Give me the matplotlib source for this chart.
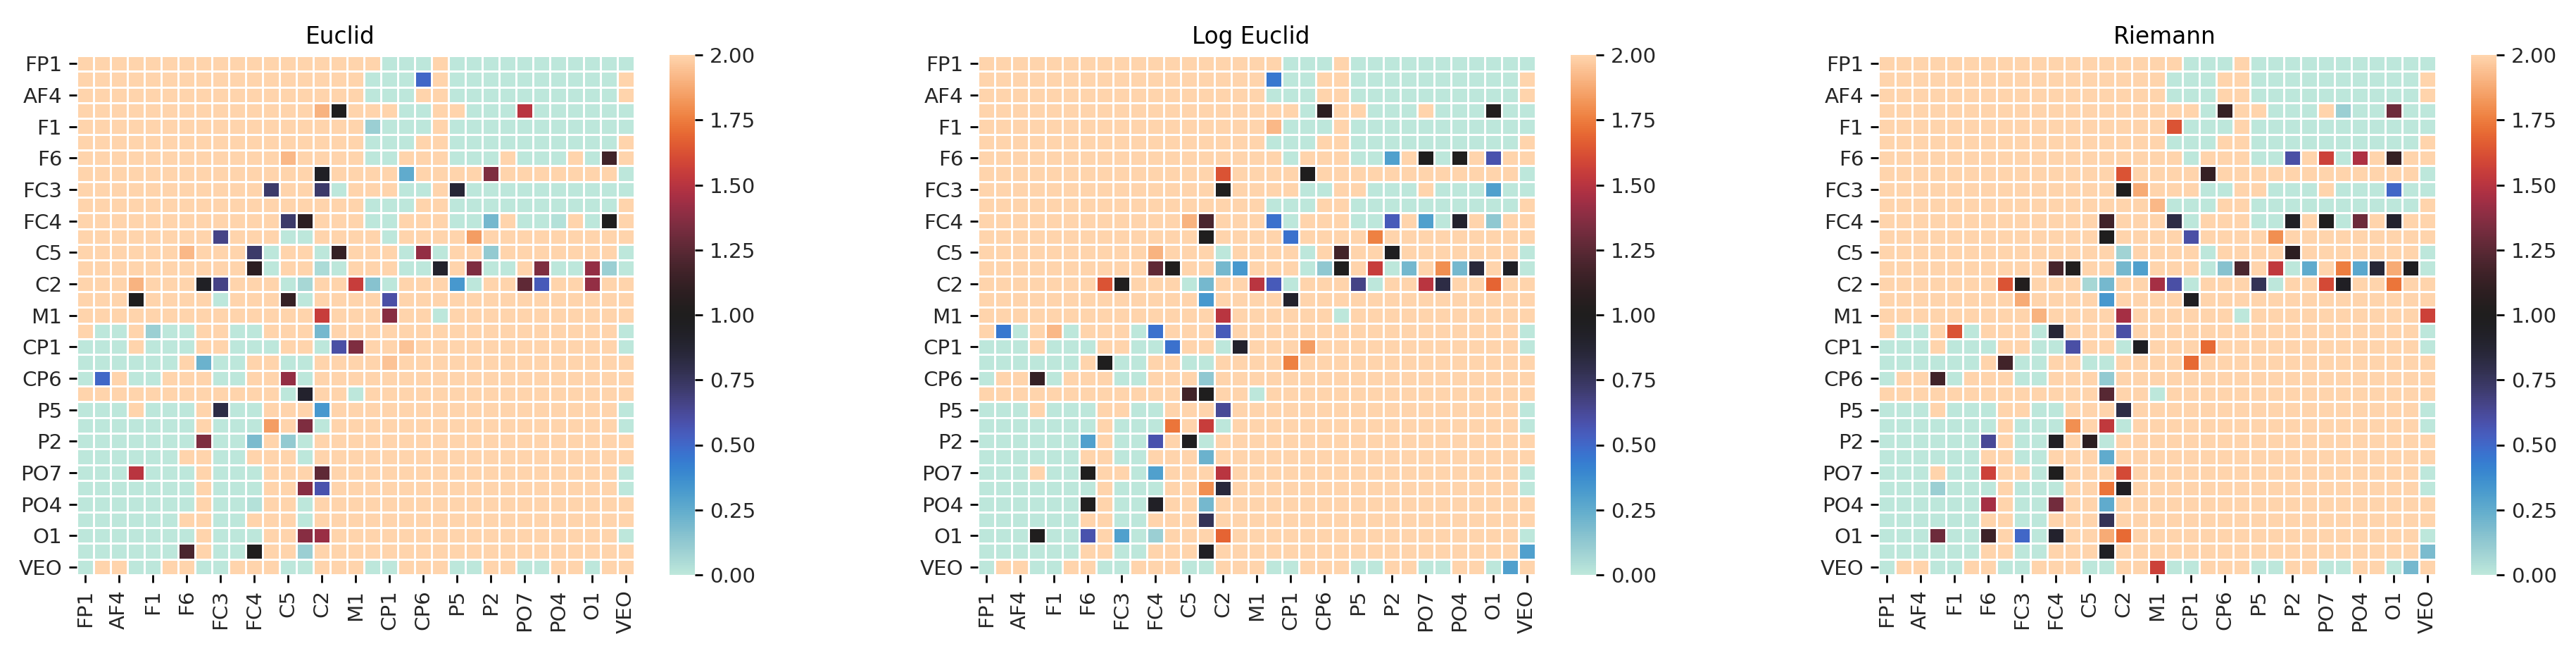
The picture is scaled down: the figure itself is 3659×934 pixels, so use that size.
import numpy as np
import matplotlib
matplotlib.use('Agg')
import matplotlib.pyplot as plt
import seaborn as sns

#CHANNEL LABELS (every second channel is labelled)
channels = ['FP1', 'AF4', 'F1', 'F6', 'FC3', 'FC4', 'C5', 'C2', 'M1',
            'CP1', 'CP6', 'P5', 'P2', 'PO7', 'PO4', 'O1', 'VEO']

#COMMON PATTERN, O = 2.0, T = 0.0
row_a = "O"*18 + "TTT" + "O" + "T"*11
row_b = "O"*17 + "TTT" + "OO" + "T"*10 + "O"
row_c = "O"*19 + "TT" + "OO" + "TTT" + "O" + "T"*6
row_d = "O"*18 + "T" + "OOO" + "TTT" + "O" + "TTT" + "O" + "T" + "OO"
row_e = "T"*6 + "OO" + "TT" + "OOO" + "T" + "O"*19
row_f = "T"*7 + "O" + "TTT" + "O"*21 + "T"
pattern = [
    row_a, row_b, row_b, row_c, row_a, row_b, row_d,
    "O"*32 + "T",
    row_c, row_b, row_d,
    "O"*33,
    "O"*14 + "T" + "O"*4 + "T" + "O"*12 + "T",
    "O"*19 + "T" + "O"*4 + "T" + "O"*7 + "T",
    "O"*12 + "T" + "O"*5 + "T" + "O"*4 + "T" + "O"*9,
    "O"*33,
    "O"*21 + "T" + "O"*11,
    "OTTOTTOOOTT" + "O"*21 + "T",
    "TTTOTTTOOTTTOOT" + "O"*17 + "T",
    "T"*6 + "OTTTOOTT" + "O"*19,
    "TOOTTOOOTTOOOT" + "O"*19,
    "O"*16 + "T" + "O"*16,
    "TTTOTTTOOTT" + "O"*21 + "T",
    "T"*7 + "OTTTOOOT" + "O"*17 + "T",
    "T"*7 + "OTTOOOT" + "O"*19,
    row_e,
    "TTTOTTTOOTT" + "O"*21 + "T",
    row_f,
    "T"*7 + "OTTTOOT" + "O"*19,
    row_e, row_f, row_e,
    "TOOTTOOTTOOOTTOOOTTOOOTTOOTTOOTOO",
]

#CELLS THAT DIFFER FROM THE PATTERN (row, col, value)
euclid_cells = [
    (1,20,.5), (3,14,1.9), (3,15,1.0), (3,26,1.5), (4,17,.1), (6,12,1.92), (6,17,0), (6,31,1.17),
    (7,14,.94), (7,19,.25), (7,24,1.35), (8,11,.72), (8,14,.72), (8,15,0), (8,22,.86), (8,26,0),
    (10,12,.72), (10,13,1.08), (10,17,0), (10,24,.2), (10,28,.03), (10,31,1.0),
    (11,8,.66), (11,12,0), (11,13,0), (11,18,0), (11,23,1.84),
    (12,6,1.92), (12,10,.72), (12,11,0), (12,15,1.12), (12,20,1.4), (12,21,0), (12,24,.12),
    (13,10,1.08), (13,11,0), (13,14,.05), (13,15,0), (13,20,0), (13,21,.9), (13,23,1.35), (13,25,0),
    (13,27,1.35), (13,28,0), (13,29,0), (13,30,1.4), (13,31,.1),
    (14,3,1.9), (14,7,.94), (14,8,.66), (14,13,.07), (14,16,1.55), (14,17,.15), (14,22,.33), (14,26,1.26),
    (14,27,.55), (14,30,1.4), (15,3,1.0), (15,8,0), (15,12,1.12), (15,13,0), (15,18,.6),
    (16,14,1.55), (16,18,1.37), (17,4,.1), (17,6,0), (17,14,.2), (18,15,.6), (18,16,1.35), (18,19,1.95),
    (19,7,.22), (19,18,1.95), (20,1,.5), (20,12,1.4), (21,12,0), (21,13,.9), (22,8,.82), (22,14,.33),
    (23,11,1.84), (23,13,1.35), (24,7,1.35), (24,10,.18), (24,12,.12), (26,3,1.5), (26,8,0), (26,14,1.26),
    (27,13,1.37), (27,14,.58), (28,10,.03), (30,13,1.37), (30,14,1.42), (31,6,1.2), (31,10,1.0), (31,13,.1),
]

log_euclid_cells = [
    (1,17,.45), (3,20,1.08), (3,30,1.03), (4,17,1.92), (6,24,.3), (6,26,1.0), (6,28,1.01), (6,30,.58),
    (7,14,1.63), (7,19,1.0), (8,14,1.0), (8,30,.3),
    (10,12,1.9), (10,13,1.2), (10,17,.47), (10,24,.55), (10,26,.3), (10,28,.9), (10,30,.13),
    (11,13,1.0), (11,18,.47), (11,23,1.76), (12,10,1.9), (12,21,1.17), (12,24,.97),
    (13,10,1.26), (13,11,1.01), (13,14,.2), (13,15,.33), (13,20,.13), (13,21,1.0), (13,23,1.55), (13,25,.2),
    (13,27,1.8), (13,28,.2), (13,29,.85), (13,31,.94),
    (14,7,1.63), (14,8,1.01), (14,13,.2), (14,16,1.5), (14,17,.55), (14,22,.66), (14,26,1.5), (14,27,.82), (14,30,1.68),
    (15,13,.33), (15,18,.9), (16,14,1.5), (17,1,.45), (17,4,1.92), (17,10,.47), (17,14,.55),
    (18,11,.47), (18,15,.9), (18,19,1.84), (19,7,1.0), (19,18,1.76), (20,3,1.12), (20,13,.13),
    (21,12,1.17), (21,13,1.0), (22,14,.63), (23,11,1.73), (23,13,1.55), (24,6,.3), (24,10,.58), (24,12,.98),
    (25,13,.22), (26,6,1.0), (26,10,.3), (26,14,1.5), (27,13,1.8), (27,14,.85),
    (28,6,1.01), (28,10,.93), (28,13,.2), (29,13,.77), (30,3,1.01), (30,6,.58), (30,8,.3), (30,10,.1), (30,14,1.68),
    (31,13,.95), (31,32,.3), (32,31,.3),
]

riemann_cells = [
    (3,20,1.12), (3,27,.1), (3,30,1.3), (4,17,1.63), (6,24,.6), (6,26,1.57), (6,28,1.47), (6,30,1.12),
    (7,14,1.63), (7,19,1.12), (8,14,1.01), (8,15,1.88), (8,30,.5), (9,16,1.92),
    (10,13,1.17), (10,17,.82), (10,24,.94), (10,26,1.0), (10,28,1.3), (10,30,.9),
    (11,13,1.0), (11,18,.6), (11,23,1.8), (12,14,.08), (12,24,1.08),
    (13,10,1.18), (13,11,1.01), (13,14,.2), (13,15,.3), (13,20,.15), (13,21,1.2), (13,23,1.53), (13,25,.25),
    (13,27,1.75), (13,28,.27), (13,29,.86), (13,30,1.88), (13,31,.97),
    (14,7,1.63), (14,8,1.03), (14,12,.07), (14,13,.2), (14,16,1.45), (14,17,.6), (14,22,.77), (14,26,1.6),
    (14,27,.95), (14,30,1.73), (15,8,1.88), (15,13,.33), (15,18,.97), (16,9,1.9), (16,14,1.45), (16,32,1.57),
    (17,4,1.63), (17,10,.86), (17,14,.6), (18,11,.6), (18,15,.96), (18,19,1.7), (19,7,1.17), (19,18,1.7),
    (20,3,1.17), (20,13,.12), (21,13,1.24), (22,14,.82), (23,11,1.8), (23,13,1.53),
    (24,6,.63), (24,10,.95), (24,12,1.08), (25,13,.25), (26,6,1.57), (26,10,1.0), (26,14,1.6),
    (27,3,.1), (27,13,1.73), (27,14,.95), (28,6,1.45), (28,10,1.32), (28,13,.25), (29,13,.77),
    (30,3,1.3), (30,6,1.15), (30,8,.5), (30,10,.9), (30,13,1.88), (30,14,1.7),
    (31,13,.95), (31,32,.18), (32,16,1.57), (32,31,.2),
]

titles = ['Euclid', 'Log Euclid', 'Riemann']
cells = [euclid_cells, log_euclid_cells, riemann_cells]
lefts = [109, 1389, 2668]  #heatmap left edge in pixels
title_shift = [-22, -8, 11]  #titles sit a little off centre in the original

W, H = 3659, 934
fig = plt.figure(figsize=(W/200, H/200), dpi=200)

for title, extra, left, shift in zip(titles, cells, lefts, title_shift):
    mat = np.array([[2.0 if ch == 'O' else 0.0 for ch in row] for row in pattern])
    for r, c, v in extra:
        mat[r, c] = v

    ax = fig.add_axes([left/W, 1 - 816/H, 792/W, 737/H])
    cax = fig.add_axes([(left + 842)/W, 1 - 816/H, 36/W, 738/H])
    sns.heatmap(mat, ax=ax, cbar_ax=cax, cmap='icefire', vmin=0, vmax=2,
                linewidths=1.0, linecolor='white', xticklabels=False, yticklabels=False)
    ax.set_xticks(np.arange(0.5, 33, 2))
    ax.set_yticks(np.arange(0.5, 33, 2))
    ax.set_xticklabels(channels, rotation=90, fontsize=10.6, color='#262626')
    ax.set_yticklabels(channels, rotation=0, fontsize=10.6, color='#262626')
    ax.tick_params(length=4, width=1.0)
    ax.set_title(title, fontsize=11.8, x=0.5 + shift/792, pad=6)
    cax.set_yticks(np.arange(0, 2.01, 0.25))
    cax.set_yticklabels([f'{t:.2f}' for t in np.arange(0, 2.01, 0.25)], fontsize=10.6, color='#262626')
    cax.tick_params(length=4, width=1.0)

fig.savefig('out.png', dpi=200)
